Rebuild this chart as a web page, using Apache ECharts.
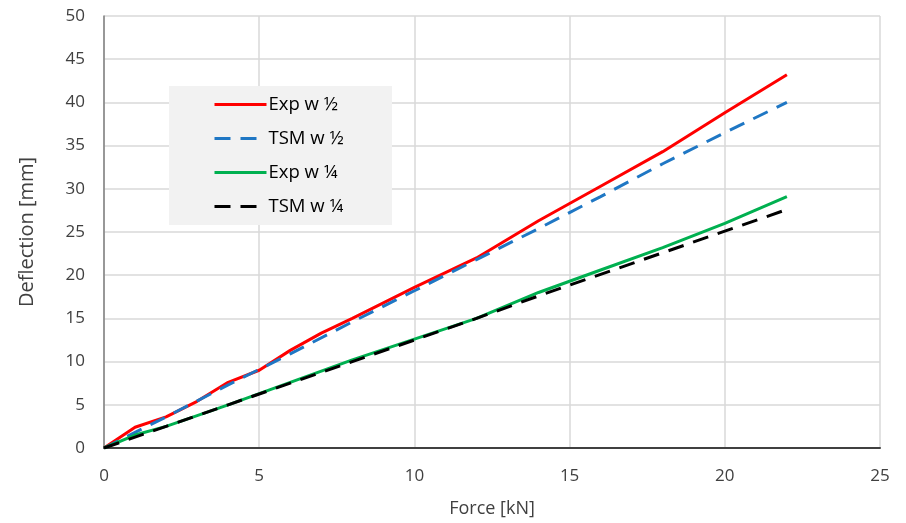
<!DOCTYPE html>
<html><head><meta charset="utf-8">
<script src="https://cdn.jsdelivr.net/npm/echarts@6/dist/echarts.min.js"></script>
<style>html,body{margin:0;padding:0;background:#fff}#c{width:906px;height:523px}</style>
</head><body><div id="c"></div>
<script>
var expHalfX = [0, 1, 2, 3, 4, 5, 6, 7, 8, 10, 12, 14, 16, 18, 20, 22];
var expHalfY = [0, 2.4, 3.6, 5.4, 7.6, 9.0, 11.3, 13.3, 15.0, 18.6, 22.0, 26.3, 30.3, 34.3, 38.8, 43.2];
var tsmHalfX = [0, 2, 4, 6, 8, 10, 12, 14, 16, 18, 20, 22];
var tsmHalfY = [0, 3.6, 7.3, 10.9, 14.6, 18.2, 21.8, 25.4, 29.1, 32.9, 36.5, 40.0];
var expQuarterX = [0, 1, 2, 4, 6, 8, 10, 12, 14, 16, 18, 20, 22];
var expQuarterY = [0, 1.5, 2.5, 5.0, 7.6, 10.2, 12.6, 15.0, 18.0, 20.6, 23.2, 26.0, 29.1];
var tsmQuarterX = [0, 2, 4, 6, 8, 10, 12, 14, 16, 18, 20, 22];
var tsmQuarterY = [0, 2.5, 5.0, 7.5, 10.0, 12.5, 15.0, 17.6, 20.1, 22.6, 25.1, 27.6];
var names = ['Exp w ½', 'TSM w ½', 'Exp w ¼', 'TSM w ¼'];

function pairs(xs, ys) { return xs.map(function (x, i) { return [x, ys[i]]; }); }
var font = 'Open Sans';
var chart = echarts.init(document.getElementById('c'));
function ser(name, xs, ys, color, type) {
  return {
    name: name, type: 'line', data: pairs(xs, ys), symbol: 'none', showSymbol: false,
    lineStyle: { color: color, width: 3, type: type },
    itemStyle: { color: color }, animation: false, z: 3
  };
}
chart.setOption({
  animation: false,
  graphic: [{
    type: 'rect', z: 1, silent: true,
    shape: { x: 169, y: 86, width: 223, height: 139 },
    style: { fill: '#f2f2f2' }
  }],
  grid: { left: 104, right: 26, top: 16, bottom: 75 },
  legend: {
    orient: 'vertical', left: 213, top: 95, z: 5,
    padding: 0,
    itemWidth: 52, itemHeight: 18, itemGap: 15,
    itemStyle: { opacity: 0 },
    lineStyle: { width: 3 },
    textStyle: { fontFamily: font, fontSize: 18.5, color: '#000', padding: [0, 0, 0, -3] },
    data: names
  },
  xAxis: {
    type: 'value', min: 0, max: 25, interval: 5,
    name: 'Force [kN]', nameLocation: 'middle', nameGap: 52,
    nameTextStyle: { fontFamily: font, fontSize: 18, color: '#404040' },
    axisLine: { show: true, lineStyle: { color: '#404040', width: 2 } },
    axisTick: { show: false },
    axisLabel: { fontFamily: font, fontSize: 17, color: '#404040', margin: 20 },
    splitLine: { show: true, lineStyle: { color: '#d9d9d9', width: 1.5 } }
  },
  yAxis: {
    type: 'value', min: 0, max: 50, interval: 5,
    name: 'Deflection [mm]', nameLocation: 'middle', nameGap: 67,
    nameTextStyle: { fontFamily: font, fontSize: 20, color: '#404040' },
    axisLine: { show: true, lineStyle: { color: '#7f7f7f', width: 1.5 } },
    axisTick: { show: false },
    axisLabel: { fontFamily: font, fontSize: 17, color: '#404040', margin: 19 },
    splitLine: { show: true, lineStyle: { color: '#d9d9d9', width: 1.5 } }
  },
  series: [
    ser(names[0], expHalfX, expHalfY, '#ff0000', 'solid'),
    ser(names[1], tsmHalfX, tsmHalfY, '#1f77c4', [16, 10]),
    ser(names[2], expQuarterX, expQuarterY, '#00b050', 'solid'),
    ser(names[3], tsmQuarterX, tsmQuarterY, '#000000', [16, 10])
  ]
});
</script></body></html>
